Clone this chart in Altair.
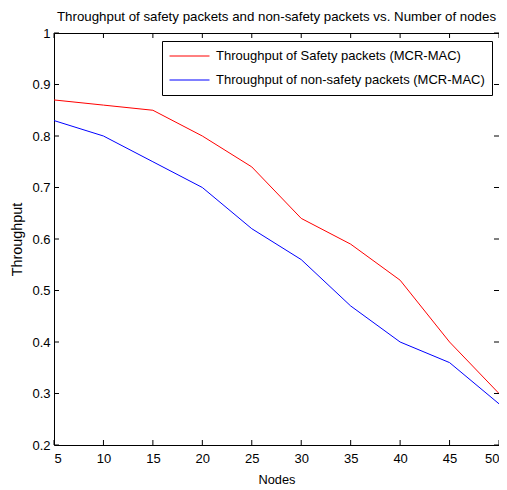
import altair as alt
import pandas as pd

nodes = [5, 10, 15, 20, 25, 30, 35, 40, 45, 50]
safety = [0.87, 0.86, 0.85, 0.80, 0.74, 0.64, 0.59, 0.52, 0.40, 0.30]
non_safety = [0.83, 0.80, 0.75, 0.70, 0.62, 0.56, 0.47, 0.40, 0.36, 0.28]
series_names = ["Throughput of Safety packets (MCR-MAC)",
                "Throughput of non-safety packets (MCR-MAC)"]
series_colors = ["#ff0000", "#0000ff"]
x_ticks = [5, 10, 15, 20, 25, 30, 35, 40, 45, 50]
y_ticks = [0.2, 0.3, 0.4, 0.5, 0.6, 0.7, 0.8, 0.9, 1.0]

W, H = 445, 412
FONT = "Liberation Sans"

rows = []
for n, s, ns in zip(nodes, safety, non_safety):
    rows.append({"Nodes": n, "Throughput": s, "Series": series_names[0]})
    rows.append({"Nodes": n, "Throughput": ns, "Series": series_names[1]})
df = pd.DataFrame(rows)

xs = alt.Scale(domain=[5, 50], nice=False, zero=False)
ys = alt.Scale(domain=[0.2, 1.0], nice=False, zero=False)

lines = alt.Chart(df).mark_line(strokeWidth=1, clip=True).encode(
    x=alt.X("Nodes:Q", scale=xs, title="Nodes",
            axis=alt.Axis(values=x_ticks, ticks=False, grid=False, domain=False,
                          labelPadding=7, titlePadding=8, format="~g",
                          titleFontSize=12.8)),
    y=alt.Y("Throughput:Q", scale=ys, title="Throughput",
            axis=alt.Axis(values=y_ticks, ticks=False, grid=False, domain=False,
                          labelPadding=4, titlePadding=7, format=".1~f",
                          titleFontSize=14.4)),
    color=alt.Color("Series:N",
                    scale=alt.Scale(domain=series_names, range=series_colors),
                    sort=series_names,
                    legend=alt.Legend(title=None, orient="none", legendX=108, legendY=8,
                                      symbolType="stroke", symbolSize=1600,
                                      symbolStrokeWidth=1, clipHeight=16,
                                      strokeColor="black",
                                      fillColor="white", padding=7,
                                      labelFont=FONT, labelFontSize=13,
                                      labelColor="black", labelLimit=400,
                                      rowPadding=8, labelOffset=6)),
)

xt = pd.DataFrame({"v": x_ticks})
yt = pd.DataFrame({"v": y_ticks})

xb = alt.Chart(xt).mark_rule(color="black", strokeWidth=1).encode(
    x=alt.X("v:Q", scale=xs), y=alt.value(H), y2=alt.value(H - 5))
xtop = alt.Chart(xt).mark_rule(color="black", strokeWidth=1).encode(
    x=alt.X("v:Q", scale=xs), y=alt.value(0), y2=alt.value(5))
yl = alt.Chart(yt).mark_rule(color="black", strokeWidth=1).encode(
    y=alt.Y("v:Q", scale=ys), x=alt.value(0), x2=alt.value(5))
yr = alt.Chart(yt).mark_rule(color="black", strokeWidth=1).encode(
    y=alt.Y("v:Q", scale=ys), x=alt.value(W), x2=alt.value(W - 5))

chart = alt.layer(lines, xb, xtop, yl, yr).properties(
    width=W, height=H,
    background="white",
    title=alt.TitleParams("Throughput of safety packets and non-safety packets vs. Number of nodes",
                          font=FONT, fontSize=13.3, fontWeight="normal", color="black",
                          anchor="middle", offset=4),
    autosize=alt.AutoSizeParams(type="none"),
    padding={"left": 46, "top": 25, "right": 0, "bottom": 44},
).configure_view(stroke="black", strokeWidth=1).configure_axis(
    labelFont=FONT, labelFontSize=13, labelColor="black",
    titleFont=FONT, titleFontWeight="normal", titleColor="black",
)

chart.save("out.html", embed_options={"renderer": "svg", "actions": False})
